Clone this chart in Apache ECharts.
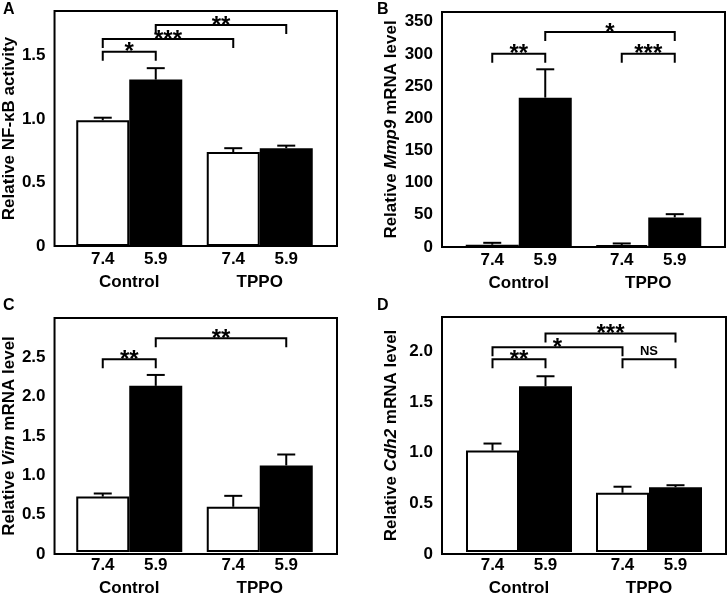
<!DOCTYPE html>
<html lang="en">
<head>
    <meta charset="UTF-8">
    <title>NF-kB / Mmp9 / Vim / Cdh2</title>
    <script src="https://cdn.jsdelivr.net/npm/echarts@6/dist/echarts.min.js"></script>
</head>
<body style="margin: 0; background: #fff">
    <div id="container" style="width: 728px; height: 597px"></div>
    <script type="text/javascript">
        var groups = ['Control', 'TPPO'];
        var phLabels = ['7.4', '5.9'];

        // A - NF-kB activity
        var nfkbPh74 = [0.99, 0.74];
        var nfkbPh74Err = [0.02, 0.03];
        var nfkbPh59 = [1.31, 0.77];
        var nfkbPh59Err = [0.09, 0.02];
        // [bar from, bar to, level, mark]  bars: 0 ctl 7.4, 1 ctl 5.9, 2 tppo 7.4, 3 tppo 5.9
        var nfkbSig = [[0, 1, 1.53, '*'], [0, 2, 1.63, '***'], [1, 3, 1.74, '**']];

        // B - Mmp9
        var mmp9Ph74 = [3.5, 3.0];
        var mmp9Ph74Err = [3, 2.5];
        var mmp9Ph59 = [232, 46];
        var mmp9Ph59Err = [44, 5];
        var mmp9Sig = [[0, 1, 300, '**'], [1, 3, 334, '*'], [2, 3, 300, '***']];

        // C - Vim
        var vimPh74 = [0.71, 0.58];
        var vimPh74Err = [0.04, 0.14];
        var vimPh59 = [2.13, 1.11];
        var vimPh59Err = [0.14, 0.14];
        var vimSig = [[0, 1, 2.47, '**'], [1, 3, 2.74, '**']];

        // D - Cdh2
        var cdh2Ph74 = [1.01, 0.59];
        var cdh2Ph74Err = [0.07, 0.06];
        var cdh2Ph59 = [1.65, 0.645];
        var cdh2Ph59Err = [0.10, 0.02];
        var cdh2Sig = [[0, 1, 1.92, '**'], [0, 2, 2.04, '*'], [1, 3, 2.175, '***'], [2, 3, 1.92, 'NS']];

        var FONT = '"Liberation Sans", Arial, Helvetica, sans-serif';
        var BAR_W = 53;
        var DROP = 9;

        var panels = [
            { letter: 'A', lx: 3, ly: 2, frame: [52, 11, 337, 246], max: 1.85, interval: 0.5, nameGap: 30,
              name: 'Relative NF-κB activity',
              ph74: nfkbPh74, ph74Err: nfkbPh74Err, ph59: nfkbPh59, ph59Err: nfkbPh59Err, sig: nfkbSig },
            { letter: 'B', lx: 377, ly: 2, frame: [442, 12, 725, 247], max: 365, interval: 50, nameGap: 42,
              name: '{n|Relative }{i|Mmp9}{n| mRNA level}',
              ph74: mmp9Ph74, ph74Err: mmp9Ph74Err, ph59: mmp9Ph59, ph59Err: mmp9Ph59Err, sig: mmp9Sig },
            { letter: 'C', lx: 3, ly: 298, frame: [52, 318, 337, 554], max: 3.0, interval: 0.5, nameGap: 30,
              name: '{n|Relative }{i|Vim}{n| mRNA level}',
              ph74: vimPh74, ph74Err: vimPh74Err, ph59: vimPh59, ph59Err: vimPh59Err, sig: vimSig },
            { letter: 'D', lx: 377, ly: 298, frame: [442, 317, 726, 554], max: 2.34, interval: 0.5, nameGap: 42,
              name: '{n|Relative }{i|Cdh2}{n| mRNA level}',
              ph74: cdh2Ph74, ph74Err: cdh2Ph74Err, ph59: cdh2Ph59, ph59Err: cdh2Ph59Err, sig: cdh2Sig }
        ];

        var dom = document.getElementById('container');
        var myChart = echarts.init(dom, null, { renderer: 'canvas' });

        var option = {
            animation: false,
            backgroundColor: '#fff',
            grid: [], xAxis: [], yAxis: [], series: [], graphic: []
        };

        function tickFmt(v) {
            if (v === 0) return '0';
            return Number.isInteger(v) && v >= 10 ? String(v) : v.toFixed(1);
        }

        var textBold = { fontFamily: FONT, fontWeight: 'bold', fontSize: 17, color: '#000' };

        panels.forEach(function (p, k) {
            var f = p.frame;
            var gFrame = k * 2, gBars = k * 2 + 1;
            var yBars = k * 3 + 2;

            // outer box with ticks
            option.grid.push({
                left: f[0], top: f[1], width: f[2] - f[0], height: f[3] - f[1],
                show: true, borderColor: '#000', borderWidth: 2, backgroundColor: 'transparent'
            });
            // inner grid holding the bars
            option.grid.push({
                left: f[0] + 12, top: f[1], width: f[2] - f[0] - 24, height: f[3] - f[1]
            });

            option.xAxis.push({ gridIndex: gFrame, type: 'category', data: groups, show: false });
            option.xAxis.push({
                gridIndex: gBars, type: 'category', data: groups,
                axisLine: { show: false }, axisTick: { show: false },
                axisLabel: Object.assign({ margin: 28 }, textBold)
            });

            option.yAxis.push({
                gridIndex: gFrame, type: 'value', min: 0, max: p.max, interval: p.interval,
                name: p.name, nameLocation: 'middle', nameGap: p.nameGap,
                nameTextStyle: Object.assign({
                    rich: {
                        n: Object.assign({}, textBold),
                        i: Object.assign({ fontStyle: 'italic' }, textBold)
                    }
                }, textBold),
                axisLine: { show: false },
                axisTick: { inside: true, length: 9, lineStyle: { color: '#000', width: 2 } },
                axisLabel: Object.assign({ margin: 9, showMaxLabel: false, formatter: tickFmt }, textBold),
                splitLine: { show: false }
            });
            option.yAxis.push({
                gridIndex: gFrame, type: 'value', position: 'right', min: 0, max: p.max, interval: p.interval,
                axisLine: { show: false },
                axisTick: { inside: true, length: 9, lineStyle: { color: '#000', width: 2 } },
                axisLabel: { show: false },
                splitLine: { show: false }
            });
            option.yAxis.push({ gridIndex: gBars, type: 'value', min: 0, max: p.max, show: false });

            var barLabel = function (txt) {
                return Object.assign({ show: true, position: 'bottom', distance: 5, formatter: txt }, textBold);
            };

            option.series.push({
                type: 'bar', xAxisIndex: gBars, yAxisIndex: yBars,
                data: p.ph74, barWidth: BAR_W, barGap: '0%',
                itemStyle: { color: '#fff', borderColor: '#000', borderWidth: 2 },
                label: barLabel(phLabels[0])
            });
            option.series.push({
                type: 'bar', xAxisIndex: gBars, yAxisIndex: yBars,
                data: p.ph59, barWidth: BAR_W, barGap: '0%',
                itemStyle: { color: '#000', borderColor: '#000', borderWidth: 2 },
                label: barLabel(phLabels[1])
            });

            // error bars (upper only)
            var errData = [];
            p.ph74.forEach(function (v, i) { errData.push([i, v, p.ph74Err[i], -1]); });
            p.ph59.forEach(function (v, i) { errData.push([i, v, p.ph59Err[i], 1]); });
            option.series.push({
                type: 'custom', xAxisIndex: gBars, yAxisIndex: yBars, z: 5,
                data: errData, encode: { x: 0, y: 1 },
                renderItem: function (params, api) {
                    var base = api.coord([api.value(0), api.value(1)]);
                    var top = api.coord([api.value(0), api.value(1) + api.value(2)]);
                    var x = base[0] + api.value(3) * BAR_W / 2;
                    var st = { stroke: '#000', lineWidth: 2 };
                    return {
                        type: 'group', children: [
                            { type: 'line', shape: { x1: x, y1: base[1], x2: x, y2: top[1] }, style: st },
                            { type: 'line', shape: { x1: x - 9, y1: top[1], x2: x + 9, y2: top[1] }, style: st }
                        ]
                    };
                }
            });

            // significance brackets
            var sig = p.sig;
            option.series.push({
                type: 'custom', xAxisIndex: gBars, yAxisIndex: yBars, z: 6,
                data: sig.map(function (s) { return [0, s[2]]; }), encode: { x: 0, y: 1 },
                renderItem: function (params, api) {
                    var s = sig[params.dataIndex];
                    var barX = function (i) {
                        return api.coord([Math.floor(i / 2), 0])[0] + (i % 2 ? 1 : -1) * BAR_W / 2;
                    };
                    var x1 = barX(s[0]), x2 = barX(s[1]);
                    var y = api.coord([0, s[2]])[1];
                    var isNS = s[3] === 'NS';
                    return {
                        type: 'group', children: [
                            {
                                type: 'polyline',
                                shape: { points: [[x1, y + DROP], [x1, y], [x2, y], [x2, y + DROP]] },
                                style: { stroke: '#000', lineWidth: 2, fill: null }
                            },
                            {
                                type: 'text', x: (x1 + x2) / 2, y: isNS ? y - 1 : y + 1,
                                style: {
                                    text: s[3], fill: '#000',
                                    font: 'bold ' + (isNS ? 13 : 24) + 'px ' + FONT,
                                    align: 'center', verticalAlign: isNS ? 'bottom' : 'middle'
                                }
                            }
                        ]
                    };
                }
            });

            option.graphic.push({
                type: 'text', left: p.lx, top: p.ly,
                style: { text: p.letter, fill: '#000', font: 'bold 16px ' + FONT }
            });
        });

        myChart.setOption(option);
        window.addEventListener('resize', myChart.resize);
    </script>
</body>
</html>
